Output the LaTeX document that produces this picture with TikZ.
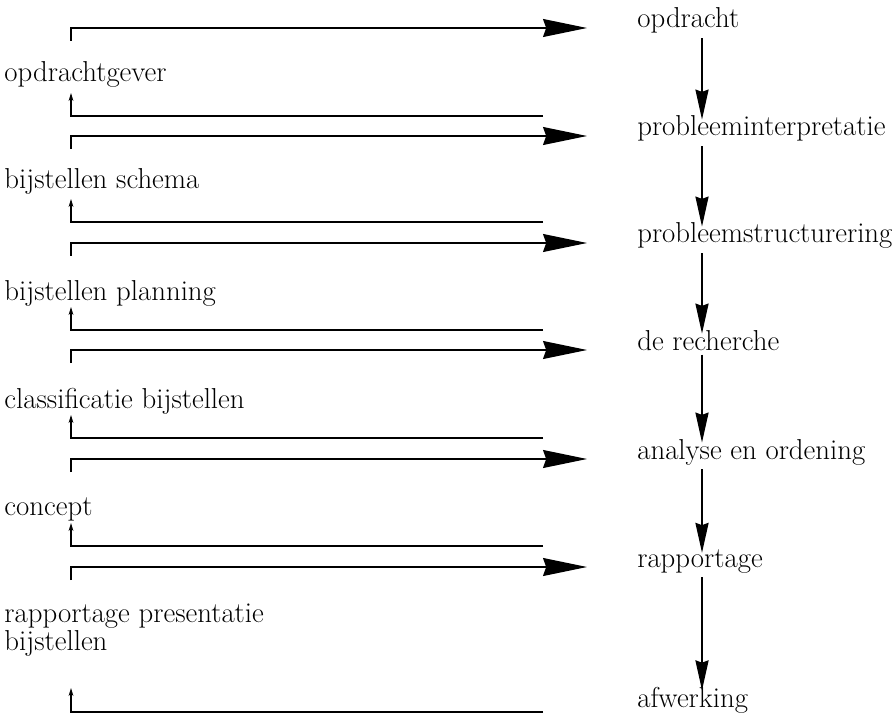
\documentclass[tikz,border=0pt]{standalone}
\usepackage{fontspec}
\usetikzlibrary{arrows.meta}

\tikzstyle{phase}=[anchor=base west, inner sep=3pt]
\tikzstyle{action}=[anchor=base west, inner sep=3pt, align=left]
\tikzstyle{feed}=[line width=0.9pt, -{Stealth[length=1.1cm, width=0.45cm, inset=0.08cm]}]
\tikzstyle{seq}=[line width=0.9pt, shorten >=-0.2cm, -{Stealth[length=0.75cm, width=0.33cm, inset=0.06cm]}]
\tikzstyle{back}=[line width=0.9pt, -{Stealth[length=0.2cm, width=0.12cm]}]

\begin{document}
\begin{tikzpicture}[font=\fontsize{20.5}{19.5}\selectfont]
      \useasboundingbox (0, 0) rectangle (22.325, -17.85);
      \coordinate (axis) at (17.55, 0);

      \node[phase] (opdracht) at (15.82, -0.7) {opdracht};
      \node[phase] (interp) at (15.82, -3.4) {probleeminterpretatie};
      \node[phase] (struct) at (15.82, -6.075) {probleemstructurering};
      \node[phase] (recherche) at (15.82, -8.75) {de recherche};
      \node[phase] (analyse) at (15.82, -11.475) {analyse en ordening};
      \node[phase] (rapport) at (15.82, -14.175) {rapportage};
      \node[phase] (afwerking) at (15.82, -17.675) {afwerking};

      \node[action] (gever) at (0, -2.05) {opdrachtgever};
      \node[action] (schema) at (0, -4.725) {bijstellen schema};
      \node[action] (planning) at (0, -7.5) {bijstellen planning};
      \node[action] (classif) at (0, -10.2) {classificatie bijstellen};
      \node[action] (concept) at (0, -12.875) {concept};
      \node[action, anchor=west] (presentatie) at (0, -15.75) {rapportage presentatie\\bijstellen};

      \draw[seq] (opdracht.south -| axis) -- (interp.north -| axis);
      \draw[seq] (interp.south -| axis) -- (struct.north -| axis);
      \draw[seq] (struct.south -| axis) -- (recherche.north -| axis);
      \draw[seq] (recherche.south -| axis) -- (analyse.north -| axis);
      \draw[seq] (analyse.south -| axis) -- (rapport.north -| axis);
      \draw[seq] (rapport.south -| axis) -- (afwerking.north -| axis);

      \coordinate (t1) at (1.775, -1.025);
      \coordinate (t2) at (1.775, -3.725);
      \coordinate (t3) at (1.775, -6.4);
      \coordinate (t4) at (1.775, -9.075);
      \coordinate (t5) at (1.775, -11.8);
      \coordinate (t6) at (1.775, -14.5);
      \draw[feed] (t1) |- ([xshift=-1.145cm]opdracht.base west);
      \draw[feed] (t2) |- ([xshift=-1.145cm]interp.base west);
      \draw[feed] (t3) |- ([xshift=-1.145cm]struct.base west);
      \draw[feed] (t4) |- ([xshift=-1.145cm]recherche.base west);
      \draw[feed] (t5) |- ([xshift=-1.145cm]analyse.base west);
      \draw[feed] (t6) |- ([xshift=-1.145cm]rapport.base west);

      \coordinate (r1) at (13.575, -2.9);
      \coordinate (r2) at (13.575, -5.55);
      \coordinate (r3) at (13.575, -8.25);
      \coordinate (r4) at (13.575, -10.95);
      \coordinate (r5) at (13.575, -13.65);
      \coordinate (r6) at (13.575, -17.8);
      \coordinate (u1) at (1.775, -2.325);
      \coordinate (u2) at (1.775, -4.975);
      \coordinate (u3) at (1.775, -7.675);
      \coordinate (u4) at (1.775, -10.375);
      \coordinate (u5) at (1.775, -13.075);
      \coordinate (u6) at (1.775, -17.2);
      \draw[back] (r1) -| (u1);
      \draw[back] (r2) -| (u2);
      \draw[back] (r3) -| (u3);
      \draw[back] (r4) -| (u4);
      \draw[back] (r5) -| (u5);
      \draw[back] (r6) -| (u6);
    \end{tikzpicture}
\end{document}
